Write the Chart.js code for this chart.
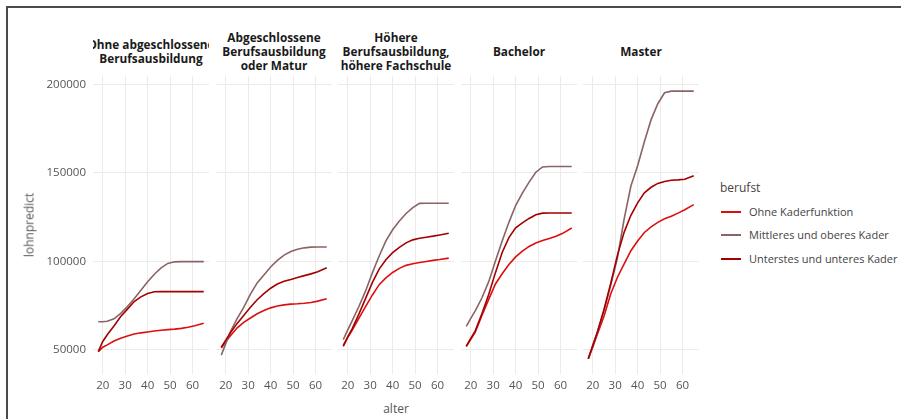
<!DOCTYPE html>
<html>
<head>
<meta charset="utf-8">
<script src="https://cdn.jsdelivr.net/npm/chart.js@4.4.1/dist/chart.umd.min.js"></script>
<style>
  body { margin: 0; width: 901px; height: 419px; background: #fff; position: relative; overflow: hidden; font-family: "Open Sans", sans-serif; }
  .frame { position: absolute; left: 6px; top: 6px; width: 920px; height: 440px; border-top: 2px solid #4a4a4a; border-left: 2px solid #4a4a4a; }
  canvas { position: absolute; top: 76px; }
  .strip { position: absolute; top: 30px; height: 42px; width: 116px; overflow: hidden; display: flex; align-items: center; justify-content: center;
           font-weight: bold; font-size: 11.8px; line-height: 14px; color: #1a1a1a; text-align: center; }
  .strip span { white-space: nowrap; flex: none; }
  .axtitle { position: absolute; font-size: 12px; color: #555; white-space: nowrap; }
  .legtitle { position: absolute; left: 720px; top: 179px; font-size: 12px; color: #444; }
  .legitem { position: absolute; left: 721px; height: 16px; font-size: 11px; color: #444; white-space: nowrap; }
  .legitem i { position: absolute; left: 0; top: 7px; width: 20px; height: 2px; }
  .legitem span { position: absolute; left: 28px; top: 0; line-height: 16px; }
</style>
</head>
<body>
<div class="frame"></div>
<div id="root"></div>

<script>
// facets (Bildungsstufen)
const panelTitles = [
  'Ohne abgeschlossene\nBerufsausbildung',
  'Abgeschlossene\nBerufsausbildung\noder Matur',
  'Höhere\nBerufsausbildung,\nhöhere Fachschule',
  'Bachelor',
  'Master'
];

// legend / series (berufst)
const seriesNames = ['Ohne Kaderfunktion', 'Mittleres und oberes Kader', 'Unterstes und unteres Kader'];
const seriesColors = ['#dc0f0f', '#8a6464', '#a30000'];

// x values (alter) shared by all lines
const alter = [18, 20, 22, 25, 28, 31, 34, 37, 40, 43, 46, 49, 52, 55, 58, 61, 65];

// lohnpredict, one row per facet
const ohneKader = [
  [49000, 51500, 52800, 55000, 56500, 57800, 58900, 59600, 60100, 60600, 61100, 61400, 61700, 62100, 62800, 63600, 65000],
  [51000, 54500, 57800, 62300, 65500, 68000, 70400, 72200, 73700, 74800, 75400, 75800, 76000, 76300, 76700, 77500, 78800],
  [52500, 57000, 61200, 67900, 74600, 81000, 86800, 90600, 93700, 96000, 97700, 98600, 99300, 99900, 100500, 101000, 101800],
  [52000, 56000, 60000, 69600, 78500, 87200, 93000, 98200, 102500, 105700, 108400, 110300, 111700, 112900, 114100, 115800, 118800],
  [45000, 51500, 58700, 69000, 81500, 91000, 98500, 106000, 111500, 116300, 119500, 122000, 124000, 125400, 127200, 129100, 132000]
];
const mittleresKader = [
  [65900, 65900, 66100, 67500, 70600, 74500, 78800, 83600, 88400, 92700, 96300, 98800, 99700, 99800, 99800, 99800, 99800],
  [47000, 53500, 60000, 67500, 74000, 81500, 87800, 92300, 96800, 100500, 103500, 105500, 106800, 107600, 108000, 108100, 108100],
  [55800, 61300, 66500, 74600, 83400, 93600, 103000, 111500, 117800, 122800, 127000, 130300, 132700, 132800, 132800, 132800, 132800],
  [63300, 67800, 72000, 79400, 88500, 100200, 111500, 122000, 131500, 138500, 144700, 150300, 153300, 153500, 153500, 153500, 153500],
  [45000, 52500, 59800, 72000, 86500, 102000, 124000, 142500, 154000, 167500, 180000, 189000, 195200, 196100, 196100, 196100, 196100]
];
const untereKader = [
  [49000, 54700, 58500, 63500, 68800, 73000, 77300, 79900, 81800, 82800, 82900, 82900, 82900, 82900, 82900, 82900, 82900],
  [51500, 55500, 59500, 64800, 69400, 74000, 78300, 81700, 84800, 87200, 88700, 89700, 90800, 91900, 92900, 94100, 96300],
  [52000, 57300, 62000, 70300, 79200, 88100, 95600, 100900, 104900, 107900, 110400, 112100, 113000, 113600, 114200, 114900, 115800],
  [52000, 56500, 60700, 70500, 81200, 93600, 105000, 113400, 118900, 121700, 124200, 126300, 127200, 127300, 127300, 127300, 127300],
  [45000, 52500, 59800, 72800, 87500, 103500, 116500, 126000, 133000, 138700, 141800, 144000, 145100, 145800, 146000, 146300, 148300]
];

const xTicks = [20, 30, 40, 50, 60];
const yTicks = [50000, 100000, 150000, 200000];

// panel placement
const panelLeft = [93, 216, 338, 461, 583];
const panelW = 116;
const panelH = 298;
const yAxisW = 60;

const root = document.getElementById('root');

function toPoints(values) {
  return alter.map((a, k) => ({ x: a, y: values[k] }));
}

// no extra label padding, the panels must line up
function noPad(s) {
  s.paddingTop = 0;
  s.paddingBottom = 0;
  s.paddingLeft = 0;
  s.paddingRight = 0;
}

function makePanel(i) {
  const showY = i === 0;
  const canvas = document.createElement('canvas');
  const w = panelW + (showY ? yAxisW : 0);
  canvas.width = w;
  canvas.height = panelH + 22;
  canvas.style.left = (panelLeft[i] - (showY ? yAxisW : 0)) + 'px';
  root.appendChild(canvas);

  // strip title
  const strip = document.createElement('div');
  strip.className = 'strip';
  strip.style.left = panelLeft[i] + 'px';
  const sp = document.createElement('span');
  sp.innerHTML = panelTitles[i].split('\n').join('<br>');
  strip.appendChild(sp);
  root.appendChild(strip);

  const all = [ohneKader[i], mittleresKader[i], untereKader[i]];
  const datasets = all.map((vals, s) => ({
    label: seriesNames[s],
    data: toPoints(vals),
    borderColor: seriesColors[s],
    borderWidth: 1.6,
    pointRadius: 0,
    tension: 0,
    fill: false,
    order: 3 - s
  }));

  const tickFont = { family: 'Open Sans', size: 11.5 };

  new Chart(canvas, {
    type: 'line',
    data: { datasets: datasets },
    options: {
      responsive: false,
      animation: false,
      devicePixelRatio: 1,
      layout: { padding: 0 },
      plugins: { legend: { display: false }, tooltip: { enabled: false } },
      scales: {
        x: {
          type: 'linear',
          min: 15.65,
          max: 67.35,
          afterBuildTicks: (s) => { s.ticks = xTicks.map(v => ({ value: v })); },
          afterFit: (s) => { s.height = 22; noPad(s); },
          grid: { color: '#ebebeb', lineWidth: 1, drawTicks: false },
          border: { display: false },
          ticks: { padding: 5, color: '#555', font: tickFont, maxRotation: 0, callback: (v) => String(v) }
        },
        y: {
          type: 'linear',
          min: 36350,
          max: 204650,
          afterBuildTicks: (s) => { s.ticks = yTicks.map(v => ({ value: v })); },
          afterFit: (s) => { s.width = showY ? yAxisW : 0; noPad(s); },
          grid: { color: '#ebebeb', lineWidth: 1, drawTicks: false },
          border: { display: false },
          ticks: { display: showY, padding: 7, color: '#555', font: tickFont, callback: (v) => String(v) }
        }
      }
    }
  });
}

for (let i = 0; i < panelTitles.length; i++) {
  makePanel(i);
}

// axis titles
const yTitle = document.createElement('div');
yTitle.className = 'axtitle';
yTitle.textContent = 'lohnpredict';
yTitle.style.left = '29px';
yTitle.style.top = '225px';
yTitle.style.transform = 'translate(-50%, -50%) rotate(-90deg)';
root.appendChild(yTitle);

const xTitle = document.createElement('div');
xTitle.className = 'axtitle';
xTitle.textContent = 'alter';
xTitle.style.left = '396px';
xTitle.style.top = '408px';
xTitle.style.transform = 'translate(-50%, -50%)';
root.appendChild(xTitle);

// legend
const legTitle = document.createElement('div');
legTitle.className = 'legtitle';
legTitle.textContent = 'berufst';
root.appendChild(legTitle);

const legY = [211.5, 235, 258.5];
for (let s = 0; s < seriesNames.length; s++) {
  const item = document.createElement('div');
  item.className = 'legitem';
  item.style.top = (legY[s] - 8) + 'px';
  item.innerHTML = '<i style="background:' + seriesColors[s] + '"></i><span>' + seriesNames[s] + '</span>';
  root.appendChild(item);
}
</script>
</body>
</html>
